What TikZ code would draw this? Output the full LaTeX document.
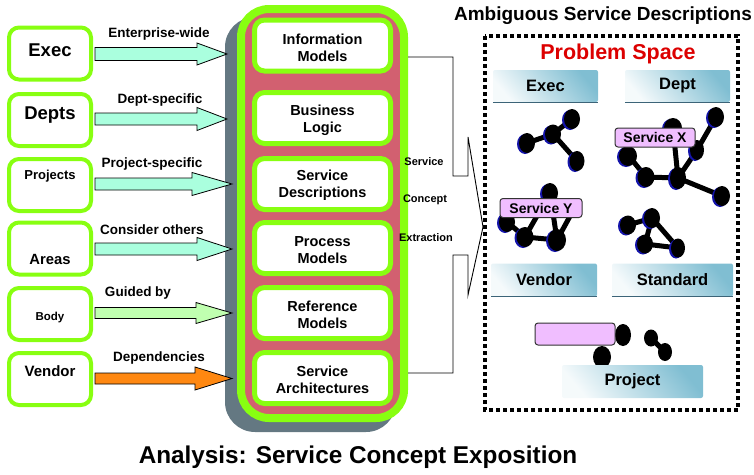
\documentclass[tikz,border=0pt]{standalone}
\usepackage{fontspec}
\setmainfont{Liberation Sans}
\usetikzlibrary{calc}
\definecolor{lime}{RGB}{136,255,17}
\definecolor{redfill}{RGB}{210,96,112}
\definecolor{slate}{RGB}{100,120,130}
\definecolor{aqua}{RGB}{170,255,222}
\definecolor{lgreen}{RGB}{192,255,176}
\definecolor{orng}{RGB}{255,136,17}
\definecolor{pinkbox}{RGB}{240,190,255}
\definecolor{lblue}{RGB}{128,190,210}
\definecolor{dblue}{RGB}{60,100,120}
\definecolor{nshadow}{RGB}{20,20,170}
\definecolor{probred}{RGB}{220,0,0}
\newcommand\barr[6]{%
  \draw[barrow, fill=#1] (95,#2-#3) -- (#5,#2-#3) -- (#5,#2-#4) -- (#6,#2) -- (#5,#2+#4) -- (#5,#2+#3) -- (95,#2+#3) -- cycle;}
\newcommand\gnode[5]{% name x y rx ry
  \fill[nshadow] (#2-2,#3+1) ellipse [x radius=#4pt, y radius=#5pt];
  \fill[black] (#2,#3) ellipse [x radius=#4pt, y radius=#5pt];
  \coordinate (#1) at (#2,#3);}
\begin{document}
\begin{tikzpicture}[x=1pt,y=-1pt, font=\bfseries,
  lbox/.style={draw=lime, line width=4pt, fill=white, rounded corners=10pt, minimum width=82pt, minimum height=52pt, inner sep=0},
  ibox/.style={draw=lime, line width=5pt, fill=white, rounded corners=10pt, minimum width=136pt, minimum height=51pt, inner sep=0},
  txt/.style={inner sep=0, align=center},
  itxt/.style={inner sep=0, align=center, font=\bfseries\fontsize{14.5}{17}\selectfont},
  barrow/.style={draw=black, line width=0.8pt, line join=miter},
  gedge/.style={line width=5pt, black, line cap=round},
  bluebox/.style={top color=lblue, bottom color=white!92!lblue, shading angle=-50, draw=none, inner sep=0, rounded corners=2pt},
  pinkb/.style={fill=pinkbox, draw=black!80, line width=1pt, rounded corners=3pt, inner sep=0},
]
\useasboundingbox (0,0) rectangle (754,474);

% ---------- central column ----------
\fill[slate, rounded corners=30pt] (225,17) rectangle (396,432);
\draw[lime, line width=8pt, fill=redfill, rounded corners=28pt] (241,9) rectangle (404,418);
\node (main) at (322.5,213.5) [minimum width=171pt, minimum height=417pt, inner sep=0] {};

\node[ibox] (info) at (322.5,45.5) {};
\node[itxt] at (322.5,48) {Information\\Models};
\node[ibox] (blogic) at (322.5,118) {};
\node[itxt] at (322.5,120) {Business\\Logic};
\node[ibox] (sdesc) at (322.5,184) {};
\node[itxt] at (322.5,185) {Service\\Descriptions};
\node[ibox] (pmod) at (322.5,248) {};
\node[itxt] at (322.5,250) {Process\\Models};
\node[ibox] (rmod) at (322.5,313) {};
\node[itxt] at (322.5,315) {Reference\\Models};
\node[ibox] (sarch) at (322.5,378) {};
\node[itxt] at (322.5,380) {Service\\Architectures};

% ---------- left boxes ----------
\node[lbox] (exec) at (50,53.5) {};
\node[txt] at (50,50) {\fontsize{18.5}{20}\selectfont Exec};
\node[lbox] (depts) at (50,120) {};
\node[txt] at (50,115) {\fontsize{18.5}{20}\selectfont Depts};
\node[lbox] (projects) at (50,185) {};
\node[txt] at (50,176) {\fontsize{13}{15}\selectfont Projects};
\node[lbox] (areas) at (50,248.5) {};
\node[txt] at (50,259) {\fontsize{14.8}{16}\selectfont Areas};
\node[lbox] (body) at (50,314) {};
\node[txt] at (50,317.5) {\fontsize{11.5}{13}\selectfont Body};
\node[lbox] (vendor) at (50,379) {};
\node[txt] at (50,371.5) {\fontsize{15}{17}\selectfont Vendor};

% ---------- block arrows ----------
\barr{aqua}{54}{6.5}{11}{197}{227}
\barr{aqua}{119}{6}{11.5}{197}{227}
\barr{aqua}{184}{6}{11.5}{192}{232}
\barr{aqua}{249}{6}{11.5}{197}{232}
\barr{lgreen}{313}{5.5}{10.5}{196}{232}
\barr{orng}{378.5}{5.5}{11.5}{195}{232}

\node[txt] at (159,34) {\fontsize{13.5}{15}\selectfont Enterprise-wide};
\node[txt] at (160,100) {\fontsize{13.5}{15}\selectfont Dept-specific};
\node[txt] at (152,164) {\fontsize{13.5}{15}\selectfont Project-specific};
\node[txt] at (152,230) {\fontsize{13.5}{15}\selectfont Consider others};
\node[txt] at (138,293.5) {\fontsize{13.5}{15}\selectfont Guided by};
\node[txt] at (159,358.5) {\fontsize{13.5}{15}\selectfont Dependencies};

% ---------- bracket arrow ----------
\draw[line width=0.9pt, line join=miter] (main.east |- 0,57) -- (453,57) -- (453,176) -- (468,176) -- (468,137)
  -- (483,227) -- (468,295) -- (468,255) -- (453,255) -- (453,373) -- (main.east |- 0,373);
\node[txt] at (424,162) {\fontsize{11}{13}\selectfont Service};
\node[txt] at (425,200) {\fontsize{11}{13}\selectfont Concept};
\node[txt] at (426,238) {\fontsize{11}{13}\selectfont Extraction};

% ---------- right side ----------
\node[txt] at (603,16) {\fontsize{19}{21}\selectfont Ambiguous Service Descriptions};
\draw[line width=4pt, dash pattern=on 4pt off 3pt] (485,36) rectangle (738,410);
\node[txt, text=probred] at (618,54) {\fontsize{21.5}{23}\selectfont Problem Space};

% Exec graph
\draw[gedge] (527,143) -- (553,134) -- (572,119);
\draw[gedge] (553,134) -- (577,161);
\gnode{ea}{527}{143}{8}{10}
\gnode{eb}{553}{134}{8}{9.5}
\gnode{ec}{572}{119}{8}{10}
\gnode{ed}{577}{161}{7.5}{10}

% Dept graph
\draw[gedge] (716,117) -- (697,150) -- (678,178) -- (646,177) -- (628,155);
\draw[gedge] (678,178) -- (722,196);
\draw[gedge] (673,128) -- (678,178);
\draw[gedge] (673,128) -- (697,150);
\gnode{da}{716}{117}{8}{10}
\gnode{db}{697}{150}{7}{10}
\gnode{dc}{673}{128}{9}{10}
\gnode{dd}{628}{156}{9}{10}
\gnode{de}{646}{177}{8.5}{10}
\gnode{df}{678}{178}{8}{11}
\gnode{dg}{722}{196}{8}{10}
\node[pinkb, minimum width=80pt, minimum height=19pt] (svx) at (655,137.5) {};
\node[txt] at (655,137.5) {\fontsize{14}{16}\selectfont Service X};

% Service Y graph
\draw[gedge] (525,237) -- (557,240) -- (550,193) -- (525,237) -- (507,222);
\draw[gedge] (557,240) -- (575,207);
\gnode{ya}{550}{193}{8}{10}
\gnode{yb}{507}{222}{8}{10}
\gnode{yc}{525}{237}{8.5}{10}
\gnode{yd}{557}{240}{9}{11}
\gnode{ye}{575}{207}{6}{8}
\node[pinkb, minimum width=82pt, minimum height=19pt] (svy) at (541,208) {};
\node[txt] at (541,208) {\fontsize{14}{16}\selectfont Service Y};

% Standard graph
\draw[gedge] (628,225) -- (652,218) -- (645,244) -- (678,248) -- (652,218);
\gnode{sa}{628}{225}{8}{9.5}
\gnode{sb}{652}{218}{8}{10}
\gnode{sc}{645}{244}{8}{9.5}
\gnode{sd}{678}{248}{7}{9.5}

% Project graph
\draw[gedge] (651,338) -- (665,352);
\fill[black] (623,335) ellipse [x radius=8pt, y radius=11pt];
\fill[black] (602,357) ellipse [x radius=9pt, y radius=11pt];
\fill[black] (651,338) ellipse [x radius=7pt, y radius=8.5pt];
\fill[black] (665,352) ellipse [x radius=7pt, y radius=9pt];
\node[pinkb, minimum width=80pt, minimum height=22pt] (pbox) at (575,334) {};

% blue label boxes
\node[bluebox, minimum width=105pt, minimum height=32pt] (lexec) at (545.5,86) {};
\draw[dblue, line width=1pt] (lexec.south west) -- (lexec.south east);
\node[txt] at (lexec) {\fontsize{16.5}{18}\selectfont Exec};
\node[bluebox, minimum width=105pt, minimum height=32pt] (ldept) at (677.5,86) {};
\draw[dblue, line width=1pt] (ldept.south west) -- (ldept.south east);
\node[txt] at (ldept) {\fontsize{16.5}{18}\selectfont Dept};
\node[bluebox, minimum width=106pt, minimum height=33pt] (lvendor) at (544,280) {};
\draw[dblue, line width=1pt] (lvendor.south west) -- (lvendor.south east);
\node[txt] at (lvendor) {\fontsize{16.5}{18}\selectfont Vendor};
\node[bluebox, minimum width=121pt, minimum height=33pt] (lstd) at (672.5,280) {};
\draw[dblue, line width=1pt] (lstd.south west) -- (lstd.south east);
\node[txt] at (lstd) {\fontsize{16.5}{18}\selectfont Standard};
\node[bluebox, minimum width=141pt, minimum height=33pt] (lproj) at (632.5,381.5) {};
\node[txt] at (lproj) {\fontsize{16.5}{18}\selectfont Project};

% ---------- bottom title ----------
\node[txt] at (358,457) {\fontsize{24.3}{26}\selectfont Analysis: Service Concept Exposition};
\end{tikzpicture}
\end{document}
